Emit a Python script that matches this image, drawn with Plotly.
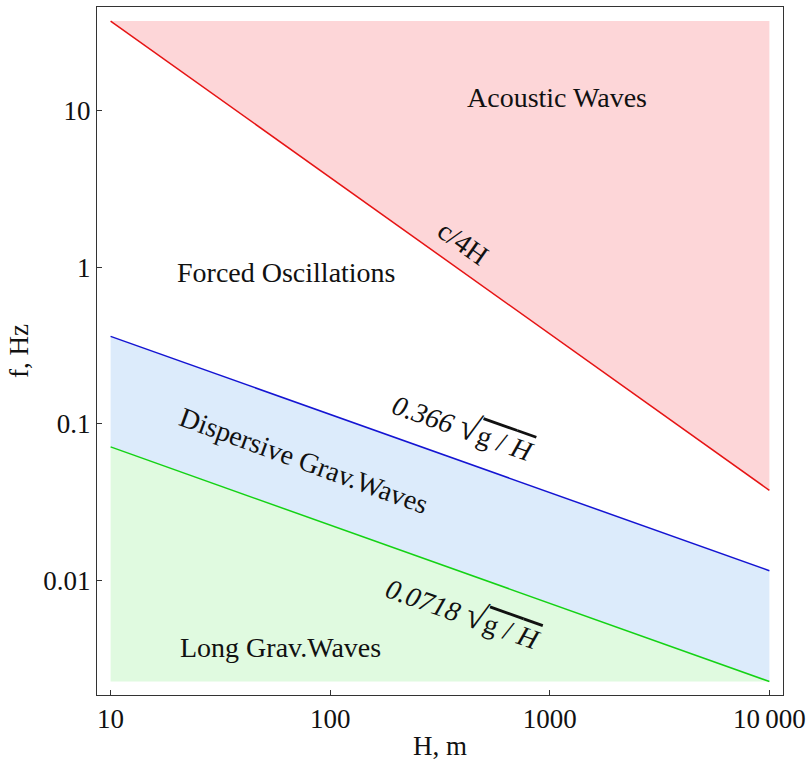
import plotly.graph_objects as go

# Data
H = [10, 100, 1000, 10000]
acoustic_c4H = [37.5, 3.75, 0.375, 0.0375]
dispersive_0366 = [0.362, 0.115, 0.0362, 0.0115]
long_00718 = [0.0711, 0.0225, 0.0071, 0.00225]
top_bound = [37.5, 37.5, 37.5, 37.5]
bottom_bound = [0.00225, 0.00225, 0.00225, 0.00225]

x_ticks = [10, 100, 1000, 10000]
x_tick_text = ["10", "100", "1000", "10\u2009000"]
y_ticks = [0.01, 0.1, 1, 10]
y_tick_text = ["0.01", "0.1", "1", "10"]

FONT = "Liberation Serif, Times New Roman, serif"
RED_FILL = "rgb(253,214,216)"
BLUE_FILL = "rgb(220,235,251)"
GREEN_FILL = "rgb(224,250,224)"

fig = go.Figure()
# Acoustic region (above red line)
fig.add_trace(go.Scatter(x=H, y=top_bound, mode="lines", line=dict(width=0),
                         hoverinfo="skip", showlegend=False))
fig.add_trace(go.Scatter(x=H, y=acoustic_c4H, mode="lines", fill="tonexty",
                         fillcolor=RED_FILL, line=dict(color="rgb(230,20,20)", width=1.5),
                         showlegend=False))
# Long gravity waves region (below green)
fig.add_trace(go.Scatter(x=H, y=bottom_bound, mode="lines", line=dict(width=0),
                         hoverinfo="skip", showlegend=False))
fig.add_trace(go.Scatter(x=H, y=long_00718, mode="lines", fill="tonexty",
                         fillcolor=GREEN_FILL, line=dict(color="rgb(20,210,20)", width=1.5),
                         showlegend=False))
# Dispersive region (between green and blue)
fig.add_trace(go.Scatter(x=H, y=dispersive_0366, mode="lines", fill="tonexty",
                         fillcolor=BLUE_FILL, line=dict(color="rgb(20,20,210)", width=1.5),
                         showlegend=False))

ann_font = dict(family=FONT, size=28, color="#111")
sqrt_txt = ("<span style='font-size:36px'>√</span>"
            "<span style='text-decoration:overline'>g / <i>H</i></span>")
labels = [
    (3.033, 1.083, "Acoustic Waves", 0),
    (1.802, -0.034, "Forced Oscillations", 0),
    (2.603, 0.158, "c/4H", 35.3),
    (2.608, -1.017, "<i>0.366</i> " + sqrt_txt, 19.5),
    (1.879, -1.234, "Dispersive Grav.Waves", 20),
    (2.608, -2.204, "<i>0.0718</i> " + sqrt_txt, 19.5),
    (1.774, -2.433, "Long Grav.Waves", 0),
]
for x, y, t, a in labels:
    fig.add_annotation(x=x, y=y, xref="x", yref="y", text=t, showarrow=False,
                       textangle=a, font=ann_font, xanchor="center", yanchor="middle")

axis_common = dict(showline=True, linecolor="#333", linewidth=1, mirror=True,
                   ticks="inside", ticklen=5, tickcolor="#333", showgrid=False,
                   zeroline=False, ticklabeloverflow="allow",
                   tickfont=dict(family=FONT, size=27, color="#111"))
fig.update_xaxes(type="log", range=[0.938, 4.062], tickvals=x_ticks, ticktext=x_tick_text,
                 title=dict(text="H, m", font=dict(family=FONT, size=27, color="#111"), standoff=2),
                 **axis_common)
fig.update_yaxes(type="log", range=[-2.734, 1.664], tickvals=y_ticks, ticktext=y_tick_text,
                 title=dict(text="f, Hz", font=dict(family=FONT, size=27, color="#111"), standoff=6),
                 **axis_common)
fig.update_layout(width=812, height=768, margin=dict(l=97, r=25, t=6, b=73),
                  plot_bgcolor="white", paper_bgcolor="white", showlegend=False)

fig.write_html("out.html", config={"displayModeBar": False},
               post_script="document.body.style.margin='0';document.body.style.overflow='hidden';")
